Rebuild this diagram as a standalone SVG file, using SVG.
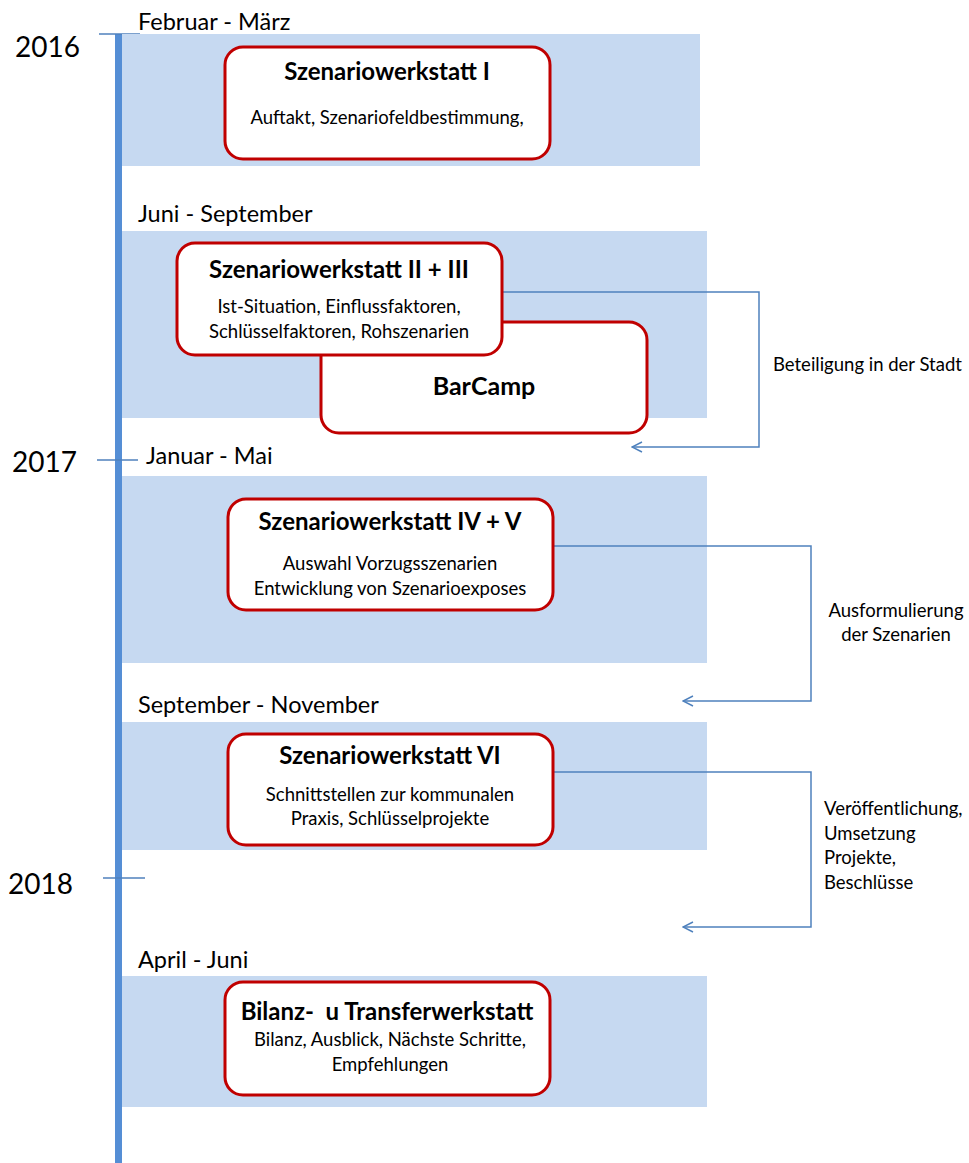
<svg xmlns="http://www.w3.org/2000/svg" width="969" height="1163" viewBox="0 0 969 1163">
<defs>
<style>
.band{fill:#C6D9F1}
.box{fill:#fff;stroke:#C00000;stroke-width:3}
.t{font-family:Lato,"Liberation Sans",sans-serif;fill:#000}
.yr{font-size:28px}
.per{font-size:23.5px}
.ttl{font-size:24px;font-weight:bold;text-anchor:middle}
.sub{font-size:18.5px;text-anchor:middle}
.lbl{font-size:18.5px}
.tick{stroke:#4F81BD;stroke-width:1.5}
.con{fill:none;stroke:#4F81BD;stroke-width:1.5}
</style>
<marker id="arr" viewBox="0 0 12 12" refX="11" refY="6" markerWidth="12" markerHeight="12" markerUnits="userSpaceOnUse" orient="auto">
<path d="M1,1 L11,6 L1,11" fill="none" stroke="#4F81BD" stroke-width="1.5"/>
</marker>
</defs>
<rect width="969" height="1163" fill="#fff"/>
<g id="timeline">
<rect x="115" y="34" width="7" height="1129" fill="#558ED5"/>
<line class="tick" x1="99" y1="34" x2="140" y2="34"/>
<line class="tick" x1="97" y1="460" x2="138" y2="460"/>
<line class="tick" x1="103" y1="878" x2="145" y2="878"/>
<text class="t yr" x="15" y="57">2016</text>
<text class="t yr" x="12" y="472">2017</text>
<text class="t yr" x="8" y="894">2018</text>
</g>
<g id="bands">
<rect class="band" x="122" y="34" width="578" height="132"/>
<rect class="band" x="122" y="231" width="585" height="187"/>
<rect class="band" x="122" y="476" width="585" height="187"/>
<rect class="band" x="122" y="722" width="585" height="128"/>
<rect class="band" x="122" y="976" width="585" height="131"/>
<text class="t per" x="138" y="30">Februar - März</text>
<text class="t per" x="138" y="222">Juni - September</text>
<text class="t per" x="146" y="464">Januar - Mai</text>
<text class="t per" x="138" y="713">September - November</text>
<text class="t per" x="138" y="968">April - Juni</text>
</g>
<g id="connectors">
<path class="con" d="M502,292 H759 V447 H632" marker-end="url(#arr)"/>
<path class="con" d="M553,546 H811 V701 H683" marker-end="url(#arr)"/>
<path class="con" d="M553,772 H811 V927 H683" marker-end="url(#arr)"/>
<text class="t lbl" x="773" y="371">Beteiligung in der Stadt</text>
<text class="t lbl" x="896" y="617" text-anchor="middle">Ausformulierung</text>
<text class="t lbl" x="896" y="641" text-anchor="middle">der Szenarien</text>
<text class="t lbl" x="824" y="815">Veröffentlichung,</text>
<text class="t lbl" x="824" y="840">Umsetzung</text>
<text class="t lbl" x="824" y="864">Projekte,</text>
<text class="t lbl" x="824" y="889">Beschlüsse</text>
</g>
<g id="node-sw1">
<rect class="box" x="225" y="47" width="325" height="112" rx="18"/>
<text class="t ttl" x="387" y="80">Szenariowerkstatt I</text>
<text class="t sub" x="387" y="124">Auftakt, Szenariofeldbestimmung,</text>
</g>
<g id="node-barcamp">
<rect class="box" x="321" y="322" width="326" height="111" rx="18"/>
<text class="t ttl" x="484" y="395" style="font-size:25px">BarCamp</text>
</g>
<g id="node-sw23">
<rect class="box" x="177" y="243" width="325" height="112" rx="18"/>
<text class="t ttl" x="339" y="278">Szenariowerkstatt II + III</text>
<text class="t sub" x="339" y="313">Ist-Situation, Einflussfaktoren,</text>
<text class="t sub" x="339" y="338">Schlüsselfaktoren, Rohszenarien</text>
</g>
<g id="node-sw45">
<rect class="box" x="228" y="499" width="325" height="111" rx="18"/>
<text class="t ttl" x="390" y="530">Szenariowerkstatt IV + V</text>
<text class="t sub" x="390" y="570">Auswahl Vorzugsszenarien</text>
<text class="t sub" x="390" y="595">Entwicklung von Szenarioexposes</text>
</g>
<g id="node-sw6">
<rect class="box" x="228" y="734" width="325" height="111" rx="18"/>
<text class="t ttl" x="390" y="764">Szenariowerkstatt VI</text>
<text class="t sub" x="390" y="801">Schnittstellen zur kommunalen</text>
<text class="t sub" x="390" y="825">Praxis, Schlüsselprojekte</text>
</g>
<g id="node-bilanz">
<rect class="box" x="225" y="982" width="325" height="113" rx="18"/>
<text class="t ttl" x="387" y="1020" xml:space="preserve">Bilanz-  u Transferwerkstatt</text>
<text class="t sub" x="390" y="1046">Bilanz, Ausblick, Nächste Schritte,</text>
<text class="t sub" x="390" y="1071">Empfehlungen</text>
</g>
</svg>
